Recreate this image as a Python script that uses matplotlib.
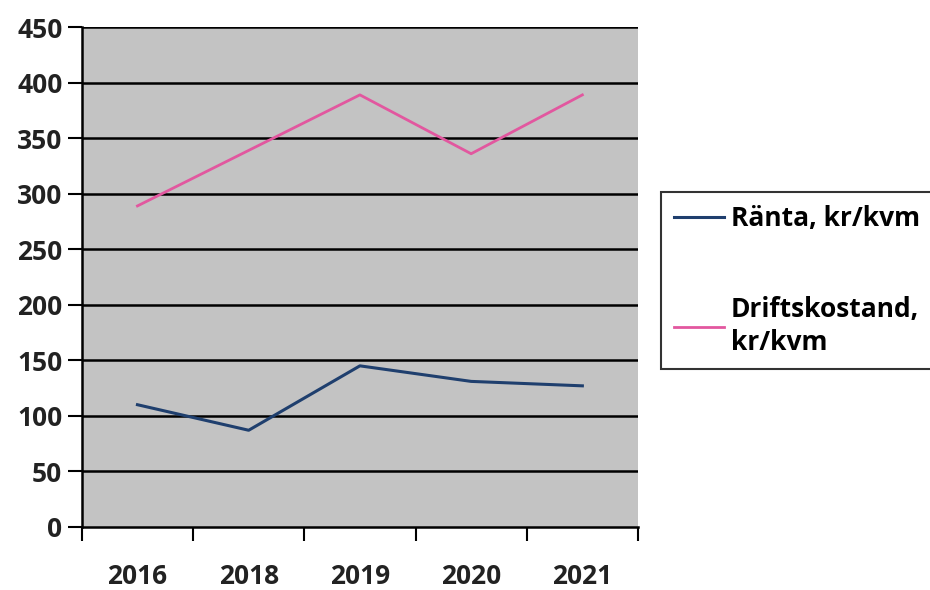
import numpy as np
import matplotlib.pyplot as plt

years = ["2016", "2018", "2019", "2020", "2021"]
ranta = [110, 87, 145, 131, 127]
drift = [289, 339, 389, 336, 389]
labels = ["Ränta, kr/kvm", "Driftskostand,\nkr/kvm"]
y_ticks = list(range(0, 451, 50))


def plot():
    plt.rcParams["font.family"] = ["Open Sans", "DejaVu Sans"]
    plt.rcParams["font.weight"] = "bold"
    fig = plt.figure(figsize=(9.3, 5.9), dpi=100)
    ax = fig.add_axes([0.088, 0.107, 0.598, 0.847])
    ax.set_facecolor("#c3c3c3")

    x = np.arange(len(years))
    l1, = ax.plot(x, ranta, color="#1f3f6e", lw=2.2)
    l2, = ax.plot(x, drift, color="#e2579f", lw=2.0)

    ax.set_ylim(0, 450)
    ax.set_xlim(-0.5, len(years) - 0.5)
    ax.set_yticks(y_ticks)
    ax.set_yticklabels([str(v) for v in y_ticks], fontsize=19, color="#222222")
    for v in y_ticks[1:]:
        ax.axhline(v, color="black", lw=1.8, zorder=1)

    ax.set_xticks(np.arange(len(years) + 1) - 0.5)
    ax.set_xticklabels([])
    ax.set_xticks(x, minor=True)
    ax.set_xticklabels(years, minor=True, fontsize=19, color="#222222")
    ax.tick_params(axis="x", which="major", direction="out", length=10, width=1.5)
    ax.tick_params(axis="x", which="minor", length=0, pad=26)
    ax.tick_params(axis="y", direction="out", length=10, width=1.5, pad=4)

    for s in ["top", "right"]:
        ax.spines[s].set_visible(False)
    for s in ["left", "bottom"]:
        ax.spines[s].set_linewidth(1.8)

    leg = fig.legend([l1, l2], labels, loc="upper left",
                     bbox_to_anchor=(661 / 930, 1 - 192 / 590),
                     fontsize=19, frameon=True, fancybox=False,
                     edgecolor="black", handlelength=1.9, handletextpad=0.25,
                     labelspacing=2.4, borderpad=0.5, borderaxespad=0)
    leg.get_frame().set_linewidth(1.5)
    for t in leg.get_texts():
        t.set_linespacing(1.3)

    fig.savefig("out.png", dpi=100)


if __name__ == "__main__":
    plot()
